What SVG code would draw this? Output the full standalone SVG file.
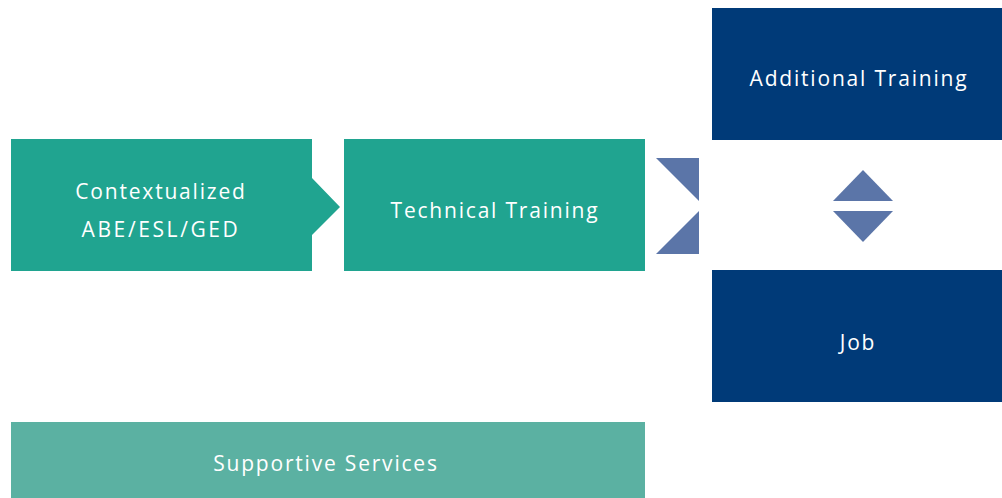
<svg xmlns="http://www.w3.org/2000/svg" width="1002" height="498" viewBox="0 0 1002 498">
<style>
.t{font-family:"Open Sans","Liberation Sans",sans-serif;font-size:21px;fill:#fff;text-anchor:middle;letter-spacing:1.8px}
.caps{letter-spacing:2.6px}
.teal{fill:#20A490}
.navy{fill:#003A78}
.tri{fill:#5B75A8}
</style>
<rect width="1002" height="498" fill="#fff"/>
<g id="contextualized">
<path class="teal" d="M11 139H312V178L340 207L312 235V271H11Z"/>
<text class="t" x="161" y="199">Contextualized</text>
<text class="t caps" x="161" y="237">ABE/ESL/GED</text>
</g>
<g id="technical">
<rect class="teal" x="344" y="139" width="301" height="132"/>
<text class="t" x="495" y="218">Technical Training</text>
</g>
<g id="additional">
<rect class="navy" x="712" y="8" width="290" height="132"/>
<text class="t" x="859" y="86">Additional Training</text>
</g>
<g id="job">
<rect class="navy" x="712" y="270" width="290" height="132"/>
<text class="t" x="858" y="350">Job</text>
</g>
<g id="supportive">
<rect x="11" y="422" width="634" height="76" fill="#5BB1A2"/>
<text class="t" x="326" y="471">Supportive Services</text>
</g>
<g id="connectors">
<path class="tri" d="M656 158H699V201Z"/>
<path class="tri" d="M699 211V254H656Z"/>
<path class="tri" d="M863 170L893 201H833Z"/>
<path class="tri" d="M833 211H893L863 242Z"/>
</g>
</svg>
